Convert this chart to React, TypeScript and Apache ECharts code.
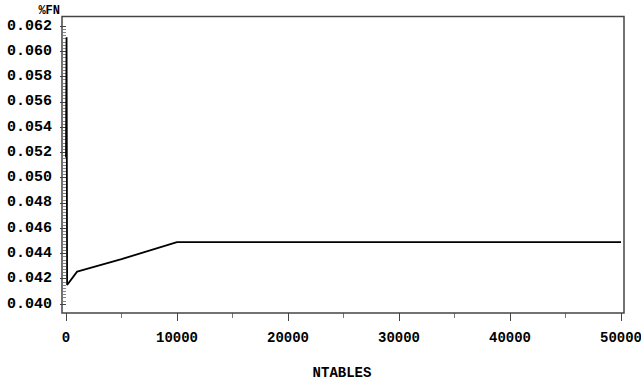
import React, { useEffect, useRef } from "react";
import * as echarts from "echarts";

const ntables = [1, 50, 100, 1000, 5000, 10000, 20000, 30000, 40000, 50000];
const pctFN = [0.0516, 0.0611, 0.0415, 0.04256, 0.04355, 0.0449, 0.0449, 0.0449, 0.0449, 0.0449];
const xTicks = [0, 10000, 20000, 30000, 40000, 50000];
const yTicks = [0.04, 0.042, 0.044, 0.046, 0.048, 0.05, 0.052, 0.054, 0.056, 0.058, 0.06, 0.062];

const FONT = "'Liberation Mono', 'Courier New', monospace";

export default function App() {
  const ref = useRef<HTMLDivElement>(null);
  useEffect(() => {
    if (!ref.current) return;
    const chart = echarts.init(ref.current, undefined, { renderer: "svg" });
    chart.setOption({
      animation: false,
      backgroundColor: "#fff",
      grid: { left: 66, right: 20, top: 26, bottom: 81, containLabel: false, outerBoundsMode: "none" },
      xAxis: {
        type: "value",
        min: xTicks[0],
        max: xTicks[xTicks.length - 1],
        interval: 10000,
        offset: 9,
        axisLine: { show: false },
        axisTick: { show: true, length: 8, lineStyle: { color: "#444", width: 1 } },
        minorTick: { show: true, splitNumber: 2, length: 5, lineStyle: { color: "#777", width: 1 } },
        splitLine: { show: false },
        axisLabel: {
          margin: 18,
          color: "#000",
          fontFamily: FONT,
          fontWeight: "bold",
          fontSize: 14,
          formatter: (v: number) => String(v),
        },
      },
      yAxis: {
        type: "value",
        min: yTicks[0],
        max: yTicks[yTicks.length - 1],
        interval: 0.002,
        offset: 4,
        axisLine: { show: false },
        axisTick: { show: true, length: 6, lineStyle: { color: "#444", width: 1 } },
        minorTick: { show: true, splitNumber: 8, length: 3, lineStyle: { color: "#888", width: 1 } },
        splitLine: { show: false },
        axisLabel: {
          margin: 10,
          color: "#000",
          fontFamily: FONT,
          fontWeight: "bold",
          fontSize: 15,
          formatter: (v: number) => v.toFixed(3),
        },
      },
      graphic: [
        {
          type: "rect",
          shape: { x: 62, y: 16.5, width: 562, height: 296.5 },
          style: { fill: "none", stroke: "#444", lineWidth: 1.5 },
          silent: true,
          z: 1,
        },
        {
          type: "text",
          x: 60,
          y: 5,
          style: { text: "%FN", fill: "#000", font: `bold 12px ${FONT}`, textAlign: "right" },
        },
        {
          type: "text",
          x: 342,
          y: 366,
          style: { text: "NTABLES", fill: "#000", font: `bold 14px ${FONT}`, textAlign: "center" },
        },
      ],
      series: [
        {
          type: "line",
          data: ntables.map((x, i) => [x, pctFN[i]]),
          symbol: "none",
          clip: false,
          lineStyle: { color: "#000", width: 1.8 },
          z: 3,
        },
      ],
    });
    return () => chart.dispose();
  }, []);
  return <div ref={ref} style={{ width: 641, height: 385, position: "absolute", left: 0, top: 0 }} />;
}
